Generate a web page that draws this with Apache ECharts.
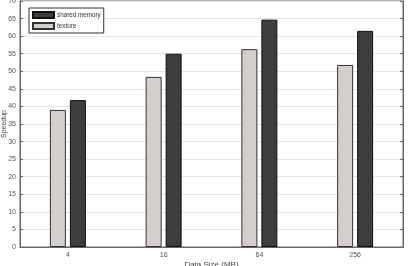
<!DOCTYPE html>
<html>
<head>
<meta charset="utf-8">
<script src="https://cdn.jsdelivr.net/npm/echarts@6/dist/echarts.min.js"></script>
<style>
  html, body { margin: 0; padding: 0; background: #fff; }
  #chart { width: 408px; height: 266px; }
</style>
</head>
<body>
<div id="chart"></div>
<script>
const categories = ['4', '16', '64', '256']
const texture = [39.0, 48.4, 56.3, 51.8]
const sharedMemory = [41.8, 55.0, 64.7, 61.5]

const chart = echarts.init(document.getElementById('chart'))

const tickLabel = { fontFamily: 'Liberation Sans', fontSize: 7, color: '#555' }

const option = {
  animation: false,
  grid: {
    left: 20, right: 5, top: 1, bottom: 19,
    outerBoundsMode: 'none', containLabel: false,
    show: true, borderColor: '#666', borderWidth: 1
  },
  legend: {
    data: ['shared memory', 'texture'],
    orient: 'vertical',
    left: 29, top: 8,
    icon: 'rect',
    itemWidth: 21, itemHeight: 6, itemGap: 3,
    padding: [3, 3, 3, 3],
    borderColor: '#333', borderWidth: 1, backgroundColor: '#fff',
    textStyle: { fontFamily: 'Liberation Sans', fontSize: 6.3, color: '#333', padding: [0, 0, 0, -2] }
  },
  xAxis: [
    {
      type: 'category',
      data: categories,
      name: 'Data Size (MB)',
      nameLocation: 'middle',
      nameGap: 14,
      nameMoveOverlap: false,
      nameTextStyle: { fontFamily: 'Liberation Sans', fontSize: 8, color: '#444' },
      axisLine: { lineStyle: { color: '#666' } },
      axisTick: { alignWithLabel: true, inside: true, length: 3, lineStyle: { color: '#666' } },
      axisLabel: Object.assign({ margin: 5 }, tickLabel)
    },
    {
      type: 'category',
      data: categories,
      position: 'top',
      axisLine: { lineStyle: { color: '#666' } },
      axisTick: { alignWithLabel: true, inside: true, length: 3, lineStyle: { color: '#666' } },
      axisLabel: { show: false }
    }
  ],
  yAxis: [
    {
      type: 'value',
      min: 0, max: 70, interval: 5,
      name: 'Speedup',
      nameLocation: 'middle',
      nameGap: 12,
      nameMoveOverlap: false,
      nameTextStyle: { fontFamily: 'Liberation Sans', fontSize: 7, color: '#444' },
      axisLine: { show: true, lineStyle: { color: '#666' } },
      axisTick: { show: true, inside: true, length: 3, lineStyle: { color: '#666' } },
      axisLabel: Object.assign({ margin: 4 }, tickLabel),
      splitLine: { lineStyle: { color: '#e4e4e4', width: 1 } }
    },
    {
      type: 'value',
      min: 0, max: 70, interval: 5,
      position: 'right',
      axisLine: { show: true, lineStyle: { color: '#666' } },
      axisTick: { show: true, inside: true, length: 3, lineStyle: { color: '#666' } },
      axisLabel: { show: false },
      splitLine: { show: false }
    }
  ],
  series: [
    {
      name: 'texture',
      type: 'bar',
      data: texture,
      barWidth: 16,
      barGap: '25%',
      itemStyle: { color: '#d3d0ca', borderColor: '#333', borderWidth: 1 }
    },
    {
      name: 'shared memory',
      type: 'bar',
      data: sharedMemory,
      barWidth: 16,
      itemStyle: { color: '#3d3d3d', borderColor: '#111', borderWidth: 1 }
    }
  ]
}

chart.setOption(option)
</script>
</body>
</html>
